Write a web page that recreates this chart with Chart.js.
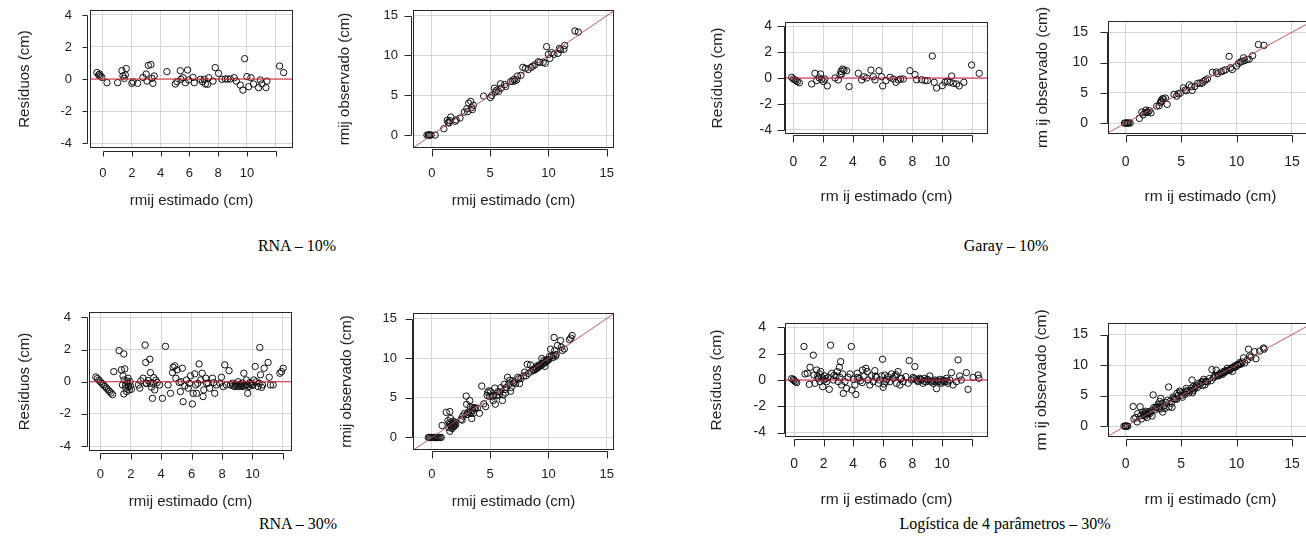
<!DOCTYPE html>
<html>
<head>
<meta charset="utf-8">
<script src="https://cdn.jsdelivr.net/npm/chart.js@4.4.0/dist/chart.umd.min.js"></script>
<style>
  body { margin: 0; width: 1306px; height: 555px; overflow: hidden; background: #fff; position: relative; }
  canvas { position: absolute; }
  .cap { position: absolute; font-family: "Liberation Serif", "Times New Roman", serif; font-size: 16px; line-height: 16px;
         color: #000; white-space: nowrap; transform: translateX(-50%); }
</style>
</head>
<body>
<canvas id="c1"></canvas>
<canvas id="c2"></canvas>
<canvas id="c3"></canvas>
<canvas id="c4"></canvas>
<canvas id="c5"></canvas>
<canvas id="c6"></canvas>
<canvas id="c7"></canvas>
<canvas id="c8"></canvas>
<div class="cap" style="left:297px;top:238px">RNA – 10%</div>
<div class="cap" style="left:1006px;top:238px">Garay – 10%</div>
<div class="cap" style="left:298px;top:516px">RNA – 30%</div>
<div class="cap" style="left:1005px;top:516px">Logística de 4 parâmetros – 30%</div>
<script>
// tick values
const resTicks = [-4, -2, 0, 2, 4];
const estTicks = [0, 2, 4, 6, 8, 10, 12];
const estLabels = ['0', '2', '4', '6', '8', '10', ''];
const obsTicks = [0, 5, 10, 15];
const refLine = [-5, 20];

// RNA 10%
const estRna10 = [-0.42,-0.3,-0.23,-0.19,-0.07,0.28,1.02,1.32,1.39,1.48,1.55,1.62,2.01,2.08,2.41,2.78,3.0,3.06,3.15,3.33,3.4,3.47,3.56,4.44,5.02,5.14,5.37,5.42,5.56,5.72,5.88,5.95,6.25,6.34,6.76,6.92,7.04,7.11,7.27,7.34,7.64,7.8,8.03,8.26,8.5,8.66,8.84,9.12,9.26,9.54,9.72,9.84,10.0,10.12,10.28,10.46,10.81,10.93,11.04,11.32,11.39,12.27,12.55];
const resRna10 = [0.4,0.25,0.31,0.19,0.1,-0.23,-0.23,0.52,0.19,0.04,0.25,0.65,-0.27,-0.17,-0.27,0.1,0.31,-0.13,0.85,0.9,0.04,-0.27,0.19,0.46,-0.31,-0.17,0.52,-0.02,0.08,-0.23,0.56,-0.06,0.1,-0.23,-0.02,-0.17,-0.02,-0.31,-0.33,0.08,-0.13,0.71,0.35,-0.02,0,0,0,0.08,-0.13,-0.38,-0.69,1.27,0.15,-0.48,0.08,-0.31,-0.54,-0.06,-0.31,-0.54,-0.13,0.81,0.4];
const obsRna10 = [0,0,0,0,0,0,0.79,1.84,1.58,1.52,1.8,2.27,1.74,1.91,2.14,2.88,3.31,2.93,4.0,4.23,3.44,3.2,3.75,4.9,4.71,4.97,5.89,5.4,5.64,5.49,6.44,5.89,6.35,6.11,6.74,6.75,7.02,6.8,6.94,7.42,7.51,8.51,8.38,8.24,8.5,8.66,8.84,9.2,9.13,9.16,9.03,11.11,10.15,9.64,10.36,10.15,10.27,10.87,10.73,10.78,11.26,13.08,12.95];

// Garay 10%
const estGaray10 = [-0.11,0,0.11,0.18,0.27,0.4,1.23,1.45,1.57,1.74,1.83,1.9,2.01,2.12,2.28,2.8,3.02,3.13,3.2,3.24,3.31,3.4,3.58,3.74,4.36,4.59,4.74,4.92,5.21,5.37,5.48,5.75,5.93,6.0,6.22,6.49,6.71,6.89,7.05,7.2,7.38,7.83,8.17,8.28,8.61,8.84,9.0,9.33,9.46,9.62,10.0,10.18,10.34,10.51,10.63,10.74,10.96,11.14,11.45,11.97,12.48];
const resGaray10 = [0.05,-0.08,-0.15,-0.2,-0.28,-0.36,-0.46,0.36,-0.2,0,0.31,-0.1,-0.26,-0.08,-0.61,0,-0.15,0.26,0.51,0.31,0.69,0.61,0.56,-0.66,0.36,-0.15,0.1,0,0.61,0.1,-0.15,0.56,0.1,-0.61,-0.2,0.05,-0.08,-0.33,-0.15,-0.08,-0.08,0.56,0.26,-0.13,-0.13,-0.2,-0.2,1.69,-0.33,-0.77,-0.59,-0.33,-0.26,-0.33,0.15,-0.41,-0.46,-0.61,-0.33,1.0,0.36];
const obsGaray10 = [0,0,0,0,0,0,0.77,1.81,1.37,1.74,2.14,1.8,1.75,2.04,1.67,2.8,2.87,3.39,3.71,3.55,4.0,4.01,4.14,3.08,4.72,4.44,4.84,4.92,5.82,5.47,5.33,6.31,6.03,5.39,6.02,6.54,6.63,6.56,6.9,7.12,7.3,8.39,8.43,8.15,8.48,8.64,8.8,11.02,9.13,8.85,9.41,9.85,10.08,10.18,10.78,10.33,10.5,10.53,11.12,12.97,12.84];

// RNA 30%
const estRna30 = [-0.3,-0.2,-0.1,0,0.1,0.2,0.3,0.4,0.5,0.6,0.7,0.8,0.88,1.23,1.54,1.38,1.6,1.49,1.56,1.45,1.54,1.67,1.78,1.82,1.89,1.97,2.04,1.73,1.75,1.86,1.95,1.66,2.59,2.81,2.94,2.98,3.03,3.14,3.25,3.29,3.36,3.42,3.51,3.57,3.73,3.9,2.5,2.65,3.0,3.27,3.48,3.65,4.08,4.28,4.45,4.61,4.74,4.78,4.89,4.96,5.04,5.18,5.26,5.39,5.44,5.55,5.66,5.77,5.92,5.3,5.85,6.05,6.1,6.21,6.27,6.32,6.49,6.6,6.69,6.75,6.8,6.93,7.08,7.19,7.37,7.52,7.63,6.4,6.98,7.45,7.85,7.96,8.07,8.18,8.29,8.46,8.55,8.68,8.84,8.95,9.06,9.12,9.21,9.34,9.43,9.5,9.61,9.69,9.82,9.93,8.72,8.88,9.0,9.16,9.27,9.38,9.55,9.65,9.77,9.88,10.02,10.09,10.18,10.26,10.37,10.48,10.53,10.66,10.77,11.03,11.1,11.18,11.36,11.8,11.91,12.02,10.45,10.6];
const resRna30 = [0.3,0.2,0.1,0,-0.1,-0.2,-0.3,-0.4,-0.5,-0.6,-0.7,-0.8,0.63,1.94,1.73,0.74,0.8,0.36,0.11,-0.2,-0.76,-0.4,-0.09,0.22,-0.51,-0.26,-0.47,-0.61,0.05,-0.3,0,-0.2,-0.4,0.22,2.28,1.2,-0.09,0.07,1.4,0.57,-0.34,-1.03,0.26,-0.51,-0.05,-0.2,-0.2,0.05,-0.1,-0.1,-0.09,0.1,-1.03,2.2,-0.2,-0.72,0.57,0.9,0.99,0.22,0.74,-0.05,-0.61,0.84,-1.24,-0.26,0.11,-0.4,0.36,0,-0.1,-1.38,-0.72,0.49,-0.2,-0.72,1.11,0.11,0.53,-0.92,-0.51,0.22,-0.09,-0.4,0.22,-0.72,-0.2,-0.1,-0.1,-0.05,-0.09,0.28,-0.3,1.05,-0.2,0.69,-0.2,-0.09,-0.3,-0.2,0,-0.3,-0.2,-0.09,0.53,-0.26,0.11,-0.72,-0.05,-0.2,-0.25,-0.15,-0.28,-0.15,-0.25,-0.3,-0.18,-0.22,-0.3,-0.12,-0.22,0.11,0.95,0,-0.3,2.13,0.43,-0.2,0.84,1.2,0.28,-0.2,-0.2,0.53,0.63,0.84,-0.1,-0.35];
const obsRna30 = [0,0,0,0,0,0,0,0,0,0,0,0,1.51,3.17,3.27,2.12,2.4,1.85,1.67,1.25,0.78,1.27,1.69,2.04,1.38,1.71,1.57,1.12,1.8,1.56,1.95,1.46,2.19,3.03,5.22,4.18,2.94,3.21,4.65,3.86,3.02,2.39,3.77,3.06,3.68,3.7,2.3,2.7,2.9,3.17,3.39,3.75,3.05,6.48,4.25,3.89,5.31,5.68,5.88,5.18,5.78,5.13,4.65,6.23,4.2,5.29,5.77,5.37,6.28,5.3,5.75,4.67,5.38,6.7,6.07,5.6,7.6,6.71,7.22,5.83,6.29,7.15,6.99,6.79,7.59,6.8,7.43,6.3,6.88,7.4,7.76,8.24,7.77,9.23,8.09,9.15,8.35,8.59,8.54,8.75,9.06,8.82,9.01,9.25,9.96,9.24,9.72,8.97,9.77,9.73,8.47,8.73,8.72,9.01,9.02,9.08,9.37,9.43,9.47,9.76,9.8,10.2,11.13,10.26,10.07,12.61,10.96,10.46,11.61,12.23,11.38,10.98,11.16,12.33,12.54,12.86,10.35,10.25];

// Logística de 4 parâmetros 30%
const estLog30 = [-0.16,-0.04,0,0.09,0.18,0.67,0.74,0.9,1.03,1.08,1.3,1.35,1.42,1.53,1.64,1.71,1.75,1.8,1.87,1.93,2.02,2.09,2.2,2.31,2.38,2.47,2.54,2.65,2.83,2.92,2.99,3.06,3.15,3.21,3.28,3.33,3.44,3.55,3.66,3.78,3.87,3.91,4.0,4.11,4.18,4.27,4.4,4.49,4.63,4.72,4.85,4.94,5.01,5.12,5.24,5.35,5.46,5.57,5.69,5.8,5.91,5.98,6.02,6.09,6.13,6.25,6.36,6.47,6.58,6.7,6.81,6.92,7.03,7.15,7.26,7.37,7.55,7.71,7.78,7.93,8.04,8.16,8.27,8.38,8.49,8.61,8.72,8.83,8.94,9.06,9.17,9.28,9.39,9.51,9.62,9.73,9.84,9.96,10.07,10.18,10.29,10.4,10.52,10.63,10.74,10.97,11.08,11.19,11.3,11.64,11.75,12.09,12.43,12.49,8.1,8.33,8.55,8.8,9.0,9.22,9.45,9.68,9.9,10.12,10.35,1.6,2.15,2.7,3.1,4.3,4.6,5.5,6.2,6.9,7.2];
const resLog30 = [0.1,0.05,-0.05,-0.13,-0.2,2.55,0.46,0.51,-0.33,0.97,1.89,0.38,-0.25,0.76,0.13,0.46,-0.13,0.64,0.2,-0.51,0,0.31,-0.13,0.2,-0.71,2.65,0.51,0,0.31,0.64,-0.13,0.97,1.4,-0.38,0.46,-1.02,-0.13,-0.64,0.2,0.46,2.55,-0.76,0.05,-0.38,-1.1,0.51,0.13,-0.05,0.76,0.31,0.89,0.64,0,-0.38,0.31,-0.13,0.71,0.2,-0.25,0,0.31,1.58,-0.56,-0.3,0.38,0.05,0.25,-0.13,0.46,0.13,0.31,-0.25,0.64,-0.38,0.13,-0.13,0.25,-0.25,1.48,0,0.2,1.02,0.05,-0.13,0.13,0,-0.25,0.13,-0.13,0,0.31,-0.13,-0.25,0,-0.66,-0.13,0.05,-0.25,0,-0.13,0.13,-0.25,0,0.56,-0.38,-0.13,1.53,0.31,0,0.56,-0.71,0.2,0.38,0.13,0.1,-0.05,0.05,-0.1,0.05,-0.08,-0.1,-0.05,-0.15,-0.05,-0.1,0.3,0.1,0.35,0.2,0.2,-0.2,0.3,-0.1,0.4,0.1];
const obsLog30 = [0,0,0,0,0,3.22,1.2,1.41,0.7,2.05,3.19,1.73,1.17,2.29,1.77,2.17,1.62,2.44,2.07,1.42,2.02,2.4,2.07,2.51,1.67,5.12,3.05,2.65,3.14,3.56,2.86,4.03,4.55,2.83,3.74,2.31,3.31,2.91,3.86,4.24,6.42,3.15,4.05,3.73,3.08,4.78,4.53,4.44,5.39,5.03,5.74,5.58,5.01,4.74,5.55,5.22,6.17,5.77,5.44,5.8,6.22,7.56,5.46,5.79,6.51,6.3,6.61,6.34,7.04,6.83,7.12,6.67,7.67,6.77,7.39,7.24,7.8,7.46,9.26,7.93,8.24,9.18,8.32,8.25,8.62,8.61,8.47,8.96,8.81,9.06,9.48,9.15,9.14,9.51,8.96,9.6,9.89,9.71,10.07,10.05,10.42,10.15,10.52,11.19,10.36,10.84,12.61,11.5,11.3,12.2,11.04,12.29,12.81,12.62,8.2,8.28,8.6,8.7,9.05,9.14,9.35,9.63,9.75,10.07,10.25,1.9,2.25,3.05,3.3,4.5,4.4,5.8,6.1,7.3,7.3];

const FONT = '"Liberation Sans", Arial, sans-serif';
const TXT = '#222';

function toXY(xs, ys) { return xs.map((v, i) => ({ x: v, y: ys[i] })); }

// R-like frame: full box plus axis lines and outward tick marks
const rFrame = {
  id: 'rFrame',
  afterDatasetsDraw(chart, args, o) {
    const { ctx, chartArea: a, scales } = chart;
    const xs = scales.x, ys = scales.y;
    ctx.save();
    ctx.strokeStyle = '#262626';
    ctx.lineWidth = 1;
    ctx.strokeRect(Math.round(a.left) + 0.5, Math.round(a.top) + 0.5,
                   Math.round(a.right - a.left) - 1, Math.round(a.bottom - a.top) - 1);
    ctx.beginPath();
    const ax = Math.round(a.left - o.yOff) + 0.5;
    const yp = ys.ticks.map(t => Math.round(ys.getPixelForValue(t.value)) + 0.5);
    ctx.moveTo(ax, yp[0]); ctx.lineTo(ax, yp[yp.length - 1]);
    yp.forEach(p => { ctx.moveTo(ax, p); ctx.lineTo(ax - o.tl, p); });
    const ay = Math.round(a.bottom + o.xOff) + 0.5;
    const xp = xs.ticks.map(t => Math.round(xs.getPixelForValue(t.value)) + 0.5);
    ctx.moveTo(xp[0], ay); ctx.lineTo(xp[xp.length - 1], ay);
    xp.forEach(p => { ctx.moveTo(p, ay); ctx.lineTo(p, ay + o.tl); });
    ctx.stroke();
    ctx.restore();
  }
};

function panel(id, g) {
  const cv = document.getElementById(id);
  cv.width = g.cw; cv.height = g.ch;
  cv.style.left = g.cx + 'px'; cv.style.top = g.cy + 'px';
  const [L, T, R, B] = g.box;
  const lh = g.title * 1.2;
  new Chart(cv, {
    type: 'scatter',
    data: {
      datasets: [
        { type: 'line', data: g.ref, borderColor: g.refColor, borderWidth: g.refWidth, pointRadius: 0, fill: false },
        { data: g.pts, pointRadius: 3.2, borderColor: '#111', borderWidth: 1, backgroundColor: 'rgba(0,0,0,0)' }
      ]
    },
    options: {
      responsive: false,
      animation: false,
      events: [],
      layout: { padding: { left: 0, top: T - g.cy, right: g.cx + g.cw - R, bottom: 0 } },
      plugins: {
        legend: { display: false },
        tooltip: { enabled: false },
        rFrame: { xOff: g.xOff, yOff: g.yOff, tl: g.tl }
      },
      scales: {
        x: {
          type: 'linear', min: g.xr[0], max: g.xr[1],
          afterBuildTicks: s => { s.ticks = g.xt.map(v => ({ value: v })); },
          afterFit: s => { s.height = g.cy + g.ch - B; s.paddingLeft = 0; s.paddingRight = 0; },
          grid: { color: '#d6d6d6', drawTicks: false },
          border: { display: false },
          ticks: { autoSkip: false, maxRotation: 0, padding: g.xPad, color: TXT,
                   font: { family: FONT, size: g.tick }, callback: (v, i) => g.xl[i] },
          title: { display: true, text: g.xTitle, color: TXT, font: { family: FONT, size: g.title },
                   padding: { top: 0, bottom: g.cy + g.ch - g.xTitleY - lh / 2 } }
        },
        y: {
          type: 'linear', min: g.yr[0], max: g.yr[1],
          afterBuildTicks: s => { s.ticks = g.yt.map(v => ({ value: v })); },
          afterFit: s => { s.width = L - g.cx; s.paddingTop = 0; s.paddingBottom = 0; },
          grid: { color: '#d6d6d6', drawTicks: false },
          border: { display: false },
          ticks: { padding: g.yPad, color: TXT, font: { family: FONT, size: g.tick }, callback: v => String(v) },
          title: { display: true, text: g.yTitle, color: TXT, font: { family: FONT, size: g.title },
                   padding: { top: g.yTitleX - g.cx - lh / 2, bottom: 0 } }
        }
      }
    },
    plugins: [rFrame]
  });
}

const hLine = refLine.map(v => ({ x: v, y: 0 }));
const dLine = refLine.map(v => ({ x: v, y: v }));
const obsLabels = obsTicks.map(String);

// top row
panel('c1', { cx: 0, cy: 0, cw: 320, ch: 215, box: [90, 10, 293, 148], xr: [-0.9, 13.2], yr: [-4.31, 4.31],
  xt: estTicks, xl: estLabels, yt: resTicks, pts: toXY(estRna10, resRna10), ref: hLine, refColor: '#dc2430', refWidth: 1.2,
  xTitle: 'rmij estimado (cm)', yTitle: 'Resíduos (cm)', xTitleY: 201, yTitleX: 25,
  tick: 13, title: 15, xPad: 18, yPad: 18, xOff: 3, yOff: 3, tl: 5 });
panel('c2', { cx: 330, cy: 0, cw: 310, ch: 215, box: [413, 10, 614, 148], xr: [-1.62, 15.62], yr: [-1.63, 15.72],
  xt: obsTicks, xl: obsLabels, yt: obsTicks, pts: toXY(estRna10, obsRna10), ref: dLine, refColor: '#b34a4e', refWidth: 0.9,
  xTitle: 'rmij estimado (cm)', yTitle: 'rmij observado (cm)', xTitleY: 201, yTitleX: 345,
  tick: 13, title: 15, xPad: 18, yPad: 15, xOff: 1, yOff: 2, tl: 7 });
panel('c3', { cx: 690, cy: 0, cw: 310, ch: 215, box: [785, 22, 988, 134], xr: [-0.56, 13.07], yr: [-4.31, 4.31],
  xt: estTicks, xl: estLabels, yt: resTicks, pts: toXY(estGaray10, resGaray10), ref: hLine, refColor: '#d81b3c', refWidth: 1.2,
  xTitle: 'rm ij estimado (cm)', yTitle: 'Resíduos (cm)', xTitleY: 197, yTitleX: 718,
  tick: 14, title: 15.5, xPad: 20, yPad: 13, xOff: 1, yOff: 1, tl: 7 });
panel('c4', { cx: 1000, cy: 0, cw: 320, ch: 215, box: [1108, 21, 1313, 134], xr: [-1.6, 16.9], yr: [-1.81, 16.86],
  xt: obsTicks, xl: obsLabels, yt: obsTicks, pts: toXY(estGaray10, obsGaray10), ref: dLine, refColor: '#b34a4e', refWidth: 0.9,
  xTitle: 'rm ij estimado (cm)', yTitle: 'rm ij observado (cm)', xTitleY: 197, yTitleX: 1043,
  tick: 14, title: 15.5, xPad: 20, yPad: 20, xOff: 1, yOff: 1, tl: 7 });

// bottom row
panel('c5', { cx: 0, cy: 270, cw: 320, ch: 245, box: [89, 312, 292, 451], xr: [-0.75, 12.6], yr: [-4.31, 4.34],
  xt: estTicks, xl: estLabels, yt: resTicks, pts: toXY(estRna30, resRna30), ref: hLine, refColor: '#dc2430', refWidth: 1.2,
  xTitle: 'rmij estimado (cm)', yTitle: 'Resíduos (cm)', xTitleY: 502, yTitleX: 25,
  tick: 13, title: 15, xPad: 16, yPad: 18, xOff: 2, yOff: 2, tl: 6 });
panel('c6', { cx: 330, cy: 270, cw: 310, ch: 245, box: [413, 313, 614, 450], xr: [-1.62, 15.62], yr: [-1.58, 15.7],
  xt: obsTicks, xl: obsLabels, yt: obsTicks, pts: toXY(estRna30, obsRna30), ref: dLine, refColor: '#b34a4e', refWidth: 0.9,
  xTitle: 'rmij estimado (cm)', yTitle: 'rmij observado (cm)', xTitleY: 502, yTitleX: 347,
  tick: 13, title: 15, xPad: 17, yPad: 16, xOff: 1, yOff: 1, tl: 7 });
panel('c7', { cx: 690, cy: 270, cw: 310, ch: 245, box: [785, 323, 988, 437], xr: [-0.61, 13.1], yr: [-4.34, 4.34],
  xt: estTicks, xl: estLabels, yt: resTicks, pts: toXY(estLog30, resLog30), ref: hLine, refColor: '#d81b3c', refWidth: 1.2,
  xTitle: 'rm ij estimado (cm)', yTitle: 'Resíduos (cm)', xTitleY: 500, yTitleX: 717,
  tick: 14, title: 15.5, xPad: 19, yPad: 19, xOff: 2, yOff: 1, tl: 7 });
panel('c8', { cx: 1000, cy: 270, cw: 320, ch: 245, box: [1108, 323, 1313, 437], xr: [-1.6, 16.9], yr: [-1.78, 16.9],
  xt: obsTicks, xl: obsLabels, yt: obsTicks, pts: toXY(estLog30, obsLog30), ref: dLine, refColor: '#b34a4e', refWidth: 0.9,
  xTitle: 'rm ij estimado (cm)', yTitle: 'rm ij observado (cm)', xTitleY: 500, yTitleX: 1042,
  tick: 14, title: 15.5, xPad: 19, yPad: 20, xOff: 2, yOff: 1, tl: 7 });
</script>
</body>
</html>
